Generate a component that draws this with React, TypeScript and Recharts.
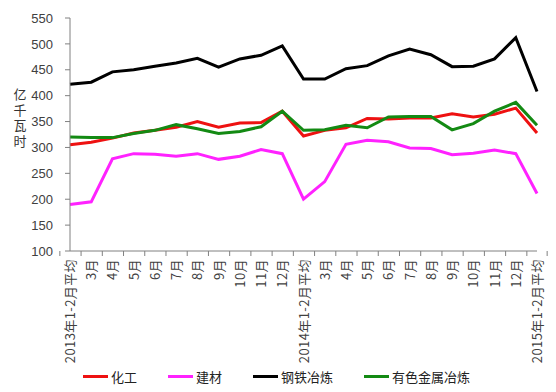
import React from 'react';
import { LineChart, Line, XAxis, YAxis, Legend } from 'recharts';

const months = ['2013年1-2月平均', '3月', '4月', '5月', '6月', '7月', '8月', '9月', '10月', '11月', '12月',
  '2014年1-2月平均', '3月', '4月', '5月', '6月', '7月', '8月', '9月', '10月', '11月', '12月', '2015年1-2月平均'];

const chemical = [305, 310, 318, 328, 333, 339, 350, 339, 347, 348, 370, 322, 333, 338, 356, 355, 357, 357, 365, 359, 364, 376, 328];
const buildingMaterials = [190, 195, 278, 288, 287, 283, 288, 277, 283, 296, 288, 200, 234, 306, 314, 311, 299, 298, 286, 289, 295, 288, 211];
const steel = [422, 426, 446, 450, 457, 463, 472, 455, 471, 478, 496, 432, 432, 452, 458, 477, 490, 479, 456, 457, 471, 512, 408];
const nonFerrous = [320, 319, 319, 327, 333, 344, 336, 327, 331, 340, 370, 333, 334, 343, 338, 359, 360, 360, 334, 346, 370, 387, 343];

const yTicks = [100, 150, 200, 250, 300, 350, 400, 450, 500, 550];

const series = [
  { key: 'chem', name: '化工', color: '#ee1111', values: chemical },
  { key: 'build', name: '建材', color: '#ff22ff', values: buildingMaterials },
  { key: 'steel', name: '钢铁冶炼', color: '#000000', values: steel },
  { key: 'nonfer', name: '有色金属冶炼', color: '#138a13', values: nonFerrous },
];

const data = months.map((m, i) => {
  const row: Record<string, string | number> = { month: m };
  series.forEach(s => { row[s.key] = s.values[i]; });
  return row;
});

const W = 556;
const H = 392;
const AXIS_W = 70;
const RIGHT = 19;
const STEP = (W - AXIS_W - RIGHT) / months.length;
const FONT = '"Noto Sans CJK SC", "Liberation Sans", sans-serif';

const XTick = (props: any) => {
  const { x, y, payload, index } = props;
  return (
    <g>
      <line x1={x - STEP / 2} x2={x - STEP / 2} y1={y - 8} y2={y - 3} stroke="#808080" />
      {index === months.length - 1 && (
        <line x1={x + STEP / 2} x2={x + STEP / 2} y1={y - 8} y2={y - 3} stroke="#808080" />
      )}
      <text
        transform={`translate(${x + 5},${y}) rotate(-90)`}
        textAnchor="end"
        fontSize={13}
        fill="#404040"
        fontFamily={FONT}
        style={{ letterSpacing: 0.4 }}
      >
        {payload.value}
      </text>
    </g>
  );
};

const YLabel = () => (
  <text
    x={20}
    y={88}
    fontSize={13}
    fill="#333"
    fontFamily={FONT}
    style={{ writingMode: 'vertical-rl', letterSpacing: 2.5 }}
  >
    亿千瓦时
  </text>
);

const LegendContent = () => (
  <div style={{ display: 'flex', gap: 31, paddingLeft: 83, fontFamily: FONT, fontSize: 13, color: '#222' }}>
    {series.map(s => (
      <div key={s.key} style={{ display: 'flex', alignItems: 'center' }}>
        <span style={{ display: 'inline-block', width: 25, height: 3, background: s.color, marginRight: 3 }} />
        <span>{s.name}</span>
      </div>
    ))}
  </div>
);

export default function App() {
  return (
    <div style={{ position: 'fixed', left: 0, top: 0, width: W, height: H, background: '#fff' }}>
      <LineChart width={W} height={H} data={data} margin={{ top: 18, right: RIGHT, left: 0, bottom: 10 }}>
        <XAxis
          dataKey="month"
          interval={0}
          tickLine={false}
          axisLine={{ stroke: '#808080' }}
          tick={<XTick />}
          height={112}
        />
        <YAxis
          domain={[100, 550]}
          ticks={yTicks}
          width={AXIS_W}
          axisLine={{ stroke: '#808080' }}
          tickLine={{ stroke: '#808080' }}
          tickSize={5}
          tickMargin={12}
          tick={{ fontSize: 13, fill: '#404040', fontFamily: '"Liberation Sans", sans-serif' }}
          label={<YLabel />}
        />
        <Legend
          content={<LegendContent />}
          wrapperStyle={{ top: 367, left: 0, width: W }}
        />
        {series.map(s => (
          <Line
            key={s.key}
            dataKey={s.key}
            name={s.name}
            stroke={s.color}
            strokeWidth={3}
            dot={false}
            type="linear"
            isAnimationActive={false}
          />
        ))}
      </LineChart>
    </div>
  );
}
